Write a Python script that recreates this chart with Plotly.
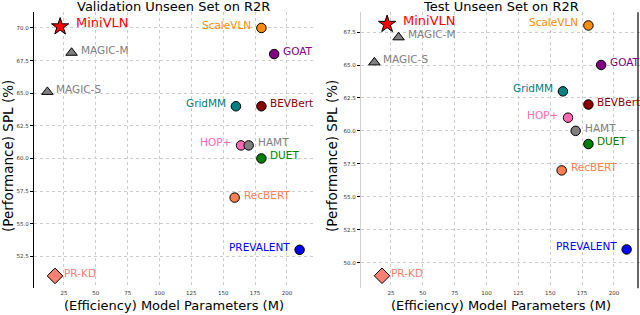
import plotly.graph_objects as go

# ---------------- data ----------------
models = ["MiniVLN", "MAGIC-M", "MAGIC-S", "ScaleVLN", "GOAT", "GridMM", "BEVBert",
          "HOP+", "HAMT", "DUET", "RecBERT", "PREVALENT", "PR-KD"]
params_m = [22, 31, 12, 180, 190, 160, 180, 164, 170, 180, 159, 210, 18]
spl_val_unseen = [70.1, 68.1, 65.1, 70.0, 68.0, 64.0, 64.0, 61.0, 61.0, 60.0, 57.0, 53.0, 51.0]
spl_test_unseen = [68.1, 67.1, 65.2, 68.0, 65.0, 63.0, 62.0, 61.0, 60.0, 59.0, 57.0, 51.0, 49.0]
val_ticks = [52.5, 55.0, 57.5, 60.0, 62.5, 65.0, 67.5, 70.0]
test_ticks = [50.0, 52.5, 55.0, 57.5, 60.0, 62.5, 65.0, 67.5]
x_ticks = [25, 50, 75, 100, 125, 150, 175, 200]
titles = ["Validation Unseen Set on R2R", "Test Unseen Set on R2R"]
x_title = "(Efficiency) Model Parameters (M)"
y_title = "(Performance) SPL (%)"

# ---------------- styles ----------------
colors = {"MiniVLN": "#FF0000", "MAGIC-M": "#808080", "MAGIC-S": "#808080",
          "ScaleVLN": "#FF8C00", "GOAT": "#800080", "GridMM": "#008080",
          "BEVBert": "#8B0000", "HOP+": "#FF69B4", "HAMT": "#808080",
          "DUET": "#008000", "RecBERT": "#FF7F50", "PREVALENT": "#0000FF",
          "PR-KD": "#FA8072"}
symbols = {"MiniVLN": "star", "MAGIC-M": "triangle-up", "MAGIC-S": "triangle-up",
           "PR-KD": "diamond"}
msize = {"MiniVLN": 13, "MAGIC-M": 10, "MAGIC-S": 10, "PR-KD": 12}
left_label = {"ScaleVLN", "GridMM", "HOP+", "PREVALENT"}

FONT = "DejaVu Sans"
W, H = 640, 315
fig = go.Figure()

panels = [
    dict(x="x", y="y", vals=spl_val_unseen, ticks=val_ticks, rng=[50.05, 71.2]),
    dict(x="x2", y="y2", vals=spl_test_unseen, ticks=test_ticks, rng=[48.05, 69.0]),
]

annotations = []
for p in panels:
    for name, px, py in zip(models, params_m, p["vals"]):
        fig.add_trace(go.Scatter(
            x=[px], y=[py], mode="markers", xaxis=p["x"], yaxis=p["y"],
            showlegend=False, hoverinfo="skip",
            marker=dict(symbol=symbols.get(name, "circle"), size=msize.get(name, 9.5),
                        color=colors[name], line=dict(color="black", width=1)),
        ))
        if name == "MiniVLN":
            xs, ys, fs = 14, 4, 13
        else:
            xs, ys, fs = (-8 if name in left_label else 7), 3, 10.5
        annotations.append(dict(
            x=px, y=py, xref=p["x"], yref=p["y"], text=name, showarrow=False,
            xanchor="right" if name in left_label else "left", yanchor="middle",
            xshift=xs, yshift=ys, font=dict(family=FONT, size=fs, color=colors[name]),
        ))

ydom = [(H - 288.3) / H, (H - 12.3) / H]
xdoms = [[34 / W, 313 / W], [361 / W, 640 / W]]

common_x = dict(range=[1.5, 220.5], tickvals=x_ticks, ticktext=[str(t) for t in x_ticks],
                showgrid=True, gridcolor="#cccccc", griddash="dot", gridwidth=1,
                zeroline=False, showline=False, ticks="",
                tickfont=dict(family=FONT, size=5.5, color="#333333"),
                automargin=False, fixedrange=True)

for i, p in enumerate(panels):
    xa = "xaxis" if i == 0 else "xaxis2"
    ya = "yaxis" if i == 0 else "yaxis2"
    fig.layout[xa] = dict(common_x, domain=xdoms[i], anchor=p["y"])
    fig.layout[ya] = dict(
        range=p["rng"], domain=ydom, anchor=p["x"], tickvals=p["ticks"],
        ticktext=[f"{t:.1f}" for t in p["ticks"]],
        showgrid=True, gridcolor="#cccccc", griddash="dot", gridwidth=1,
        zeroline=False, showline=True,
        linecolor="black" if i == 0 else "#d0d0d0", linewidth=1.2,
        ticks="outside", ticklen=3, tickcolor="black",
        tickfont=dict(family=FONT, size=5.5, color="#333333"),
        automargin=False, fixedrange=True)

# right border line of the right panel
fig.add_shape(type="line", xref="paper", yref="y2 domain", x0=638 / W, x1=638 / W, y0=0, y1=1,
              line=dict(color="black", width=1.2))

# titles and axis titles
centers = [(xdoms[0][0] + xdoms[0][1]) / 2, (xdoms[1][0] + xdoms[1][1]) / 2]
ytitle_x = [8 / W, 332 / W]
for i in range(2):
    annotations.append(dict(x=centers[i], y=(H - 6) / H, xref="paper", yref="paper",
                            text=titles[i], showarrow=False, xanchor="center", yanchor="middle",
                            font=dict(family=FONT, size=13, color="black")))
    annotations.append(dict(x=centers[i], y=10 / H, xref="paper", yref="paper",
                            text=x_title, showarrow=False, xanchor="center", yanchor="middle",
                            font=dict(family=FONT, size=13, color="black")))
    annotations.append(dict(x=ytitle_x[i], y=(H - 156) / H, xref="paper", yref="paper",
                            text=y_title, showarrow=False, textangle=-90,
                            xanchor="center", yanchor="middle",
                            font=dict(family=FONT, size=13.5, color="black")))

fig.update_layout(
    width=W, height=H, margin=dict(l=0, r=0, t=0, b=0),
    paper_bgcolor="white", plot_bgcolor="white",
    annotations=annotations, font=dict(family=FONT),
)

fig.write_html("out.html", config={"displayModeBar": False},
               post_script="document.body.style.margin='0';document.body.style.overflow='hidden';")
